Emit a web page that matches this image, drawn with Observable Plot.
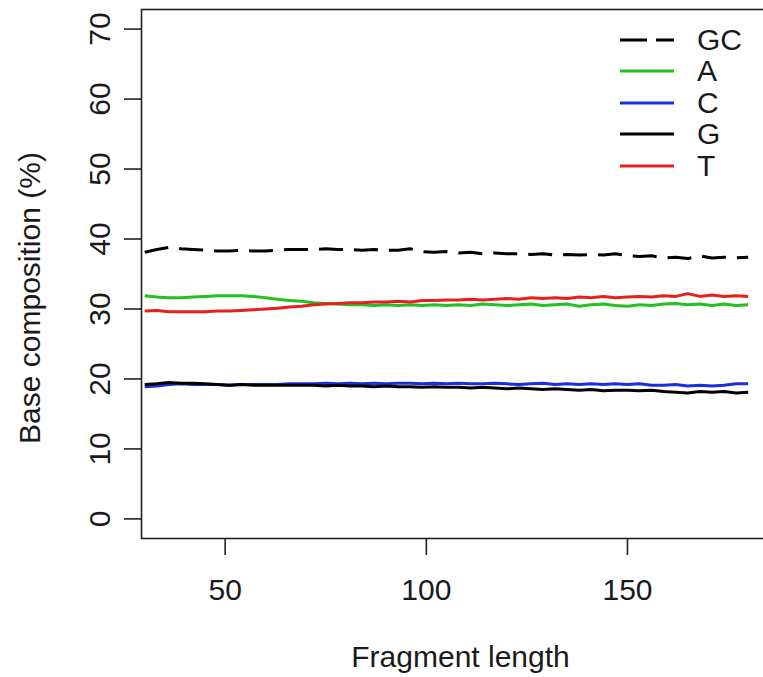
<!DOCTYPE html>
<html><head><meta charset="utf-8">
<script src="https://cdn.jsdelivr.net/npm/d3@7"></script>
<script src="https://cdn.jsdelivr.net/npm/@observablehq/plot@0.6"></script>
<style>
body{margin:0;background:#fff;font-family:"Liberation Sans",Arial,sans-serif;color:#1a1a1a;}
#wrap{position:relative;width:763px;height:677px;overflow:hidden;}
#legend{position:absolute;left:620px;top:24px;}
.row{display:flex;align-items:center;height:31.5px;}
.row span{font-size:30px;margin-left:23px;line-height:1;}
.row svg{display:block;}
</style></head><body><div id="wrap"><div id="chart"></div><div id="legend"></div></div>
<script>
const lengths = [30,33,36,39,42,45,48,51,54,57,60,63,66,69,72,75,78,81,84,87,90,93,96,99,102,105,108,111,114,117,120,123,126,129,132,135,138,141,144,147,150,153,156,159,162,165,168,171,174,177,180];
const gcValues = [38.1,38.5,38.8,38.6,38.5,38.4,38.3,38.3,38.4,38.3,38.3,38.4,38.5,38.5,38.5,38.6,38.5,38.5,38.4,38.5,38.4,38.4,38.6,38.2,38.1,38.2,38.0,38.1,37.9,38.0,37.9,37.9,37.8,37.9,37.7,37.8,37.7,37.8,37.7,37.9,37.6,37.5,37.6,37.3,37.4,37.2,37.6,37.3,37.4,37.3,37.4];
const aValues = [31.9,31.7,31.6,31.6,31.7,31.8,31.9,31.9,31.9,31.8,31.6,31.4,31.2,31.1,30.9,30.8,30.7,30.6,30.6,30.5,30.6,30.5,30.6,30.5,30.6,30.5,30.6,30.5,30.7,30.6,30.5,30.6,30.7,30.5,30.6,30.7,30.4,30.6,30.7,30.5,30.4,30.6,30.5,30.7,30.8,30.6,30.7,30.5,30.7,30.5,30.6];
const cValues = [18.9,19.0,19.2,19.3,19.2,19.2,19.2,19.1,19.2,19.2,19.2,19.2,19.3,19.3,19.3,19.4,19.3,19.4,19.3,19.4,19.3,19.4,19.4,19.3,19.4,19.3,19.4,19.3,19.3,19.4,19.3,19.2,19.3,19.4,19.2,19.3,19.2,19.3,19.2,19.3,19.2,19.3,19.1,19.1,19.2,19.0,19.1,19.0,19.1,19.3,19.3];
const gValues = [19.2,19.3,19.5,19.4,19.4,19.3,19.2,19.1,19.2,19.1,19.1,19.1,19.1,19.1,19.1,19.0,19.1,19.0,19.0,18.9,19.0,18.9,18.9,18.8,18.9,18.8,18.8,18.7,18.8,18.7,18.6,18.7,18.6,18.5,18.6,18.5,18.4,18.5,18.3,18.4,18.4,18.3,18.4,18.2,18.1,18.0,18.2,18.1,18.2,18.0,18.1];
const tValues = [29.7,29.8,29.6,29.6,29.6,29.6,29.7,29.7,29.8,29.9,30.0,30.1,30.3,30.4,30.6,30.7,30.8,30.9,30.9,31.0,31.0,31.1,31.0,31.2,31.2,31.3,31.3,31.4,31.3,31.4,31.5,31.4,31.6,31.5,31.6,31.5,31.7,31.6,31.8,31.6,31.7,31.8,31.7,31.9,31.8,32.2,31.8,32.0,31.8,31.9,31.8];

const seriesNames = ["GC","A","C","G","T"];
const seriesValues = [gcValues, aValues, cValues, gValues, tValues];
const seriesColors = ["#000000","#22c022","#1a2ee0","#000000","#e8201c"];
const seriesDash = ["24,11", null, null, null, null];
const xTicks = [50,100,150];
const yTicks = [0,10,20,30,40,50,60,70];
const xTitle = "Fragment length";
const yTitle = "Base composition (%)";

const rows = [];
seriesNames.forEach((name, s) => {
  lengths.forEach((len, i) => rows.push({series: name, len, value: seriesValues[s][i]}));
});

const lineMarks = seriesNames.map((name, s) => Plot.line(rows.filter(r => r.series === name), {
  x: "len", y: "value", stroke: seriesColors[s], strokeWidth: 3,
  strokeDasharray: seriesDash[s] || undefined, strokeLinecap: "butt", strokeLinejoin: "round"
}));

const fs = 30;
const chart = Plot.plot({
  width: 780, height: 677,
  marginLeft: 141, marginRight: 9, marginTop: 9, marginBottom: 139,
  style: {fontFamily: "Liberation Sans, Arial, sans-serif", background: "#fff", maxWidth: "none", color: "#1a1a1a"},
  x: {domain: [29.2, 185.8]},
  y: {domain: [-2.8, 72.8]},
  marks: [
    Plot.frame({stroke: "#222", strokeWidth: 1.6}),
    Plot.axisX(xTicks, {tickSize: 17, fill: "none", stroke: "#222", strokeWidth: 1.6}),
    Plot.axisY(yTicks, {tickSize: 17, fill: "none", stroke: "#222", strokeWidth: 1.6}),
    Plot.text(xTicks, {x: d => d, text: d => String(d), frameAnchor: "bottom", lineAnchor: "middle", textAnchor: "middle", dy: 52, fontSize: fs}),
    Plot.text(yTicks, {y: d => d, text: d => String(d), frameAnchor: "left", lineAnchor: "middle", textAnchor: "middle", dx: -41, rotate: -90, fontSize: fs}),
    Plot.text([xTitle], {text: d => d, frameAnchor: "bottom", lineAnchor: "middle", textAnchor: "middle", dx: 4, dy: 119, fontSize: fs}),
    Plot.text([yTitle], {text: d => d, frameAnchor: "left", lineAnchor: "middle", textAnchor: "middle", dx: -111, dy: 24, rotate: -90, fontSize: fs}),
    ...lineMarks
  ]
});
document.getElementById("chart").append(chart);

const legend = document.getElementById("legend");
seriesNames.forEach((name, s) => {
  const row = document.createElement("div");
  row.className = "row";
  const dash = seriesDash[s] ? `stroke-dasharray="27,9"` : "";
  row.innerHTML = `<svg width="54" height="6"><line x1="0" y1="3" x2="54" y2="3" stroke="${seriesColors[s]}" stroke-width="3" ${dash}/></svg><span>${name}</span>`;
  legend.append(row);
});
</script>
</body></html>
